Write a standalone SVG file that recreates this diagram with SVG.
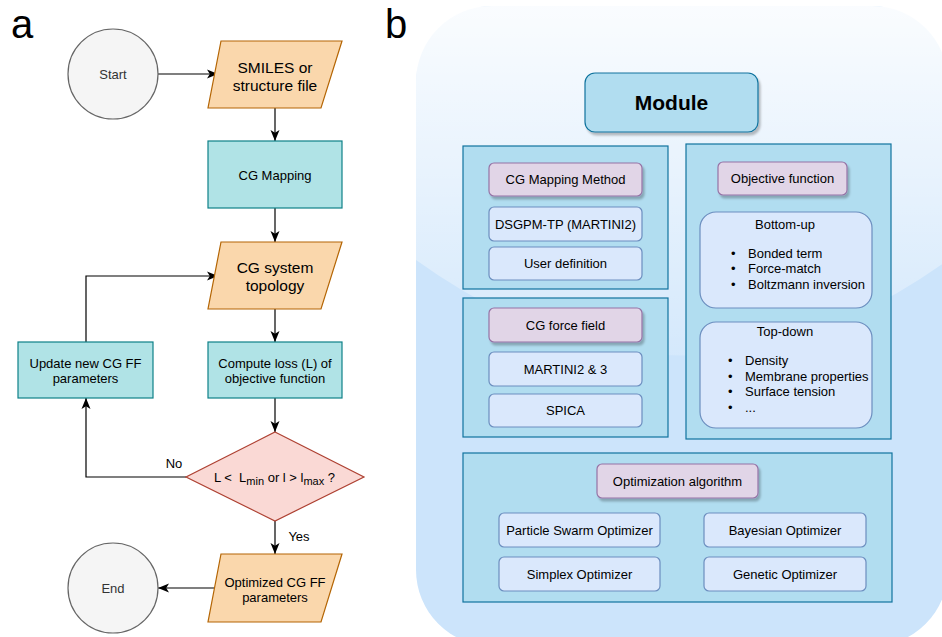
<svg xmlns="http://www.w3.org/2000/svg" width="942" height="637" viewBox="0 0 942 637">
<defs>
<marker id="arr" markerUnits="userSpaceOnUse" markerWidth="12" markerHeight="10" refX="11" refY="5" orient="auto">
<path d="M0,0.5 L11,5 L0,9.5 L2.8,5 Z" fill="#000"/>
</marker>
<linearGradient id="glass" gradientUnits="userSpaceOnUse" x1="0" y1="6" x2="0" y2="388">
<stop offset="0" stop-color="#fff" stop-opacity="0.9"/>
<stop offset="1" stop-color="#fff" stop-opacity="0.1"/>
</linearGradient>
<filter id="sh" x="-10%" y="-20%" width="130%" height="160%">
<feDropShadow dx="2" dy="3" stdDeviation="1.2" flood-color="#000" flood-opacity="0.25"/>
</filter>
<style>
text{font-family:"Liberation Sans",Arial,sans-serif;fill:#000;}
.t13{font-size:13px;text-anchor:middle;}
.t15{font-size:15.5px;text-anchor:middle;}
.lbl{font-size:40px;}
.circ{fill:#f5f5f5;stroke:#666;stroke-width:1.2;}
.io{fill:#fad7ac;stroke:#b46504;stroke-width:1.2;}
.proc{fill:#b0e3e6;stroke:#0e8088;stroke-width:1.2;}
.dec{fill:#fad9d5;stroke:#ae4132;stroke-width:1.2;}
.cont{fill:#b1ddf0;stroke:#10739e;stroke-width:1.2;}
.pill{fill:#e1d5e7;stroke:#9673a6;stroke-width:1.2;}
.item{fill:#dae8fc;stroke:#6c8ebf;stroke-width:1.2;}
.conn{fill:none;stroke:#000;stroke-width:1.2;}
.gray{fill:#333;}
</style>
</defs>
<rect width="942" height="637" fill="#fff"/>
<text class="lbl" x="11" y="38">a</text>
<text class="lbl" x="385" y="38">b</text>

<g id="panel-b-background">
<rect x="416" y="6" width="532" height="640" rx="76" ry="76" fill="#cce4fb"/>
<path d="M492,6 Q416,6 416,82 L416,260 Q682,451 948,260 L948,82 Q948,6 872,6 Z" fill="url(#glass)"/>
</g>

<g id="connectors">
<line class="conn" x1="158" y1="74" x2="218" y2="74" marker-end="url(#arr)"/>
<line class="conn" x1="275" y1="108" x2="275" y2="141" marker-end="url(#arr)"/>
<line class="conn" x1="275" y1="208" x2="275" y2="242" marker-end="url(#arr)"/>
<line class="conn" x1="275" y1="309" x2="275" y2="342" marker-end="url(#arr)"/>
<line class="conn" x1="275" y1="398" x2="275" y2="432" marker-end="url(#arr)"/>
<polyline class="conn" points="86,342 86,276 218,276" marker-end="url(#arr)"/>
<polyline class="conn" points="186,477 86,477 86,398" marker-end="url(#arr)"/>
<line class="conn" x1="275" y1="521" x2="275" y2="554" marker-end="url(#arr)"/>
<line class="conn" x1="219" y1="588" x2="158" y2="588" marker-end="url(#arr)"/>
<text x="174" y="468" style="font-size:13px;text-anchor:middle;">No</text>
<text x="299" y="541" style="font-size:13px;text-anchor:middle;">Yes</text>
</g>

<g id="start">
<circle class="circ" cx="113" cy="74" r="45"/>
<text class="t13 gray" x="113" y="78.5">Start</text>
</g>
<g id="smiles">
<polygon class="io" points="221,41 342,41 321,108 208,108"/>
<text class="t15" x="275" y="73">SMILES or</text>
<text class="t15" x="275" y="91">structure file</text>
</g>
<g id="cg-mapping">
<rect class="proc" x="208" y="141" width="134" height="67"/>
<text class="t13" x="275" y="179.5">CG Mapping</text>
</g>
<g id="cg-topology">
<polygon class="io" points="221,242 342,242 321,309 208,309"/>
<text class="t15" x="275" y="273">CG system</text>
<text class="t15" x="275" y="291">topology</text>
</g>
<g id="compute-loss">
<rect class="proc" x="208" y="342" width="134" height="56"/>
<text class="t13" x="275" y="367.5">Compute loss (L) of</text>
<text class="t13" x="275" y="382.5">objective function</text>
</g>
<g id="update-params">
<rect class="proc" x="18" y="342" width="135" height="56"/>
<text class="t13" x="85.5" y="367.5">Update new CG FF</text>
<text class="t13" x="85.5" y="382.5">parameters</text>
</g>
<g id="decision">
<polygon class="dec" points="275,432 364,477 275,521 186,477"/>
<text x="274.5" y="482" style="font-size:13px;text-anchor:middle;">L &lt;&#160; L<tspan dy="3" style="font-size:11px;">min</tspan><tspan dy="-3"> or l &gt; l</tspan><tspan dy="3" style="font-size:11px;">max</tspan><tspan dy="-3"> ?</tspan></text>
</g>
<g id="optimized">
<polygon class="io" points="221,554 342,554 321,622 208,622"/>
<text class="t13" x="275" y="586.5">Optimized CG FF</text>
<text class="t13" x="275" y="601.5">parameters</text>
</g>
<g id="end">
<circle class="circ" cx="113" cy="588" r="45"/>
<text class="t13 gray" x="113" y="592.5">End</text>
</g>

<g id="module">
<rect class="cont" x="585" y="73" width="173" height="59" rx="10" filter="url(#sh)"/>
<text x="671.5" y="109.5" style="font-size:21px;font-weight:bold;text-anchor:middle;">Module</text>
</g>

<g id="cg-mapping-method">
<rect class="cont" x="463" y="146" width="205" height="143"/>
<rect class="pill" x="489" y="163" width="153" height="33" rx="5" filter="url(#sh)"/>
<text class="t13" x="565.5" y="184">CG Mapping Method</text>
<rect class="item" x="489" y="207" width="153" height="34" rx="5"/>
<text class="t13" x="565.5" y="228.5">DSGPM-TP (MARTINI2)</text>
<rect class="item" x="489" y="247" width="153" height="33" rx="5"/>
<text class="t13" x="565.5" y="268">User definition</text>
</g>

<g id="cg-force-field">
<rect class="cont" x="463" y="298" width="205" height="139"/>
<rect class="pill" x="489" y="308" width="153" height="34" rx="5" filter="url(#sh)"/>
<text class="t13" x="565.5" y="329.5">CG force field</text>
<rect class="item" x="489" y="352" width="153" height="34" rx="5"/>
<text class="t13" x="565.5" y="373.5">MARTINI2 &amp; 3</text>
<rect class="item" x="489" y="394" width="153" height="33" rx="5"/>
<text class="t13" x="565.5" y="415">SPICA</text>
</g>

<g id="objective-function">
<rect class="cont" x="686" y="144" width="205" height="295"/>
<rect class="pill" x="718" y="162" width="129" height="33" rx="5" filter="url(#sh)"/>
<text class="t13" x="782.5" y="183">Objective function</text>
<rect class="item" x="700" y="212" width="172" height="96" rx="16"/>
<text class="t13" x="785" y="228.5">Bottom-up</text>
<text x="731" y="257.5" style="font-size:13px;">•</text>
<text x="748" y="257.5" style="font-size:13px;">Bonded term</text>
<text x="731" y="272.5" style="font-size:13px;">•</text>
<text x="748" y="272.5" style="font-size:13px;">Force-match</text>
<text x="731" y="288.5" style="font-size:13px;">•</text>
<text x="748" y="288.5" style="font-size:13px;">Boltzmann inversion</text>
<rect class="item" x="700" y="322" width="172" height="106" rx="16"/>
<text class="t13" x="785" y="335.5">Top-down</text>
<text x="728" y="364.5" style="font-size:13px;">•</text>
<text x="745" y="364.5" style="font-size:13px;">Density</text>
<text x="728" y="380.5" style="font-size:13px;">•</text>
<text x="745" y="380.5" style="font-size:13px;">Membrane properties</text>
<text x="728" y="395.5" style="font-size:13px;">•</text>
<text x="745" y="395.5" style="font-size:13px;">Surface tension</text>
<text x="728" y="411.5" style="font-size:13px;">•</text>
<text x="745" y="411.5" style="font-size:13px;">...</text>
</g>

<g id="optimization-algorithm">
<rect class="cont" x="463" y="453" width="429" height="149"/>
<rect class="pill" x="597" y="464" width="161" height="34" rx="5" filter="url(#sh)"/>
<text class="t13" x="677.5" y="485.5">Optimization algorithm</text>
<rect class="item" x="499" y="513" width="161" height="34" rx="5"/>
<text class="t13" x="579.5" y="534.5">Particle Swarm Optimizer</text>
<rect class="item" x="704" y="513" width="162" height="34" rx="5"/>
<text class="t13" x="785" y="534.5">Bayesian Optimizer</text>
<rect class="item" x="499" y="557" width="161" height="34" rx="5"/>
<text class="t13" x="579.5" y="578.5">Simplex Optimizer</text>
<rect class="item" x="704" y="557" width="162" height="34" rx="5"/>
<text class="t13" x="785" y="578.5">Genetic Optimizer</text>
</g>
</svg>
